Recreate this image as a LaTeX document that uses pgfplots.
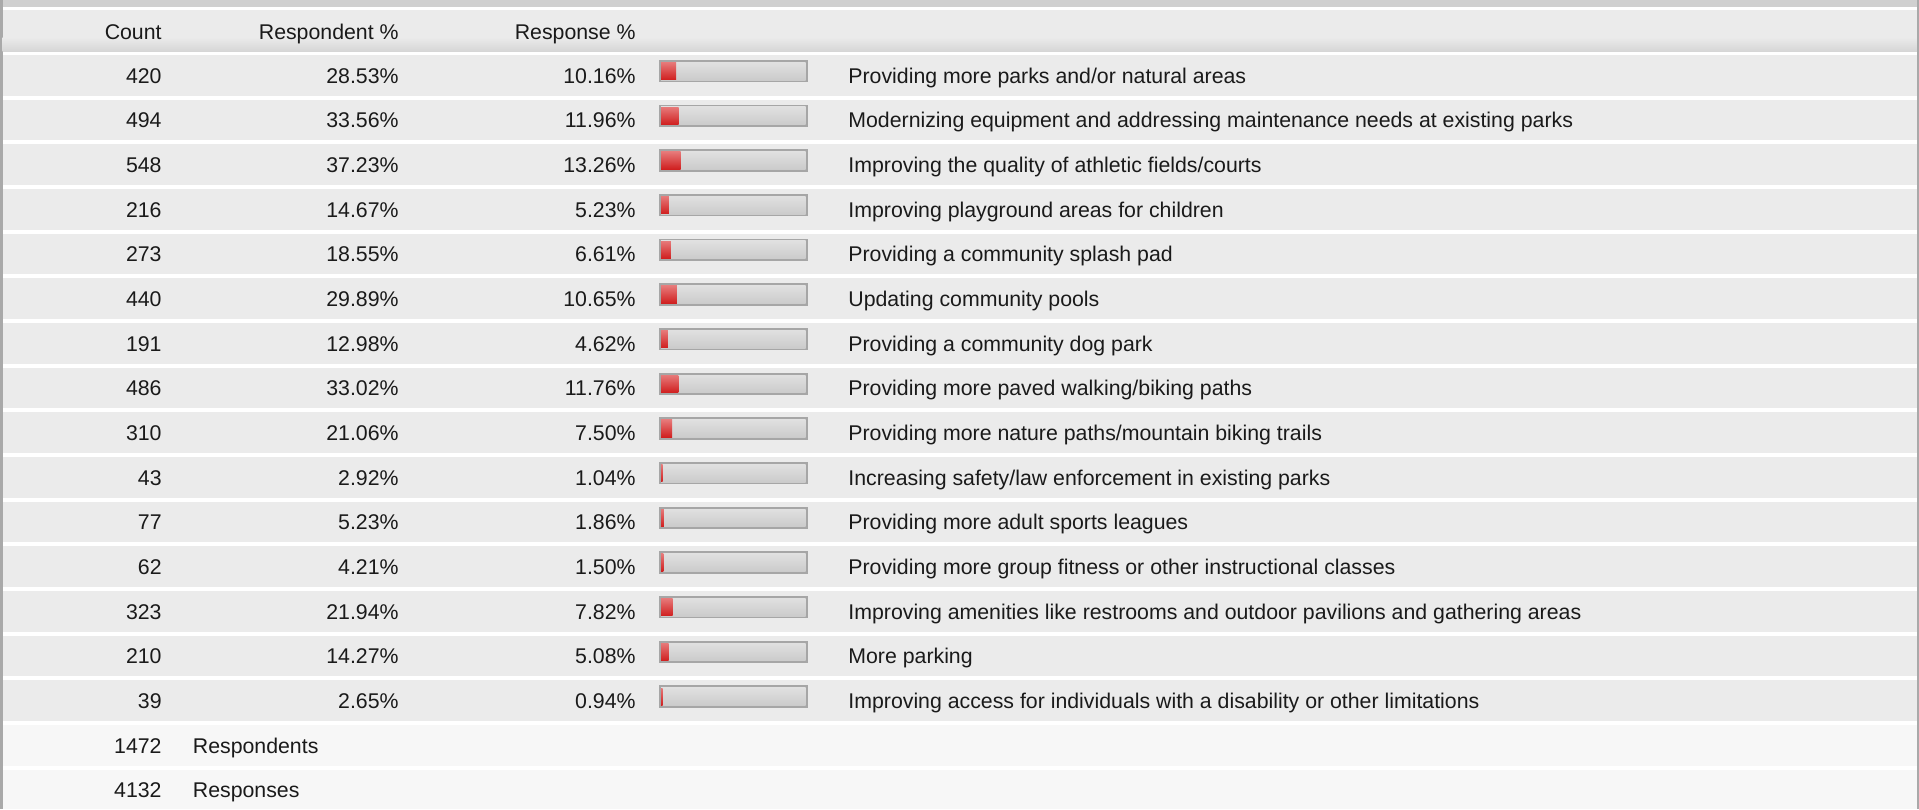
\documentclass[border=0pt]{standalone}
\usepackage{pgfplots}
\pgfplotsset{compat=1.18}
\usepackage{pgfplotstable}
\usepackage{fontspec}
\setmainfont{Liberation Sans}
\definecolor{rowbg}{HTML}{EBEBEB}
\definecolor{footbg}{HTML}{F7F7F7}
\definecolor{hdrdark}{HTML}{D6D6D6}
\definecolor{topgray}{HTML}{D0D0D0}
\definecolor{bordergray}{HTML}{A9A9A9}
\definecolor{trackborder}{HTML}{A6A6A6}
\definecolor{tracktop}{HTML}{E0E0E0}
\definecolor{trackbot}{HTML}{CBCBCB}
\definecolor{redtop}{HTML}{E67878}
\definecolor{redmid}{HTML}{D42828}
\definecolor{redbot}{HTML}{D01F1F}
\definecolor{txt}{HTML}{1A1A1A}

\pgfplotstableread{
count resp respo label
420 28.53 10.16 {Providing more parks and/or natural areas}
494 33.56 11.96 {Modernizing equipment and addressing maintenance needs at existing parks}
548 37.23 13.26 {Improving the quality of athletic fields/courts}
216 14.67 5.23 {Improving playground areas for children}
273 18.55 6.61 {Providing a community splash pad}
440 29.89 10.65 {Updating community pools}
191 12.98 4.62 {Providing a community dog park}
486 33.02 11.76 {Providing more paved walking/biking paths}
310 21.06 7.50 {Providing more nature paths/mountain biking trails}
43 2.92 1.04 {Increasing safety/law enforcement in existing parks}
77 5.23 1.86 {Providing more adult sports leagues}
62 4.21 1.50 {Providing more group fitness or other instructional classes}
323 21.94 7.82 {Improving amenities like restrooms and outdoor pavilions and gathering areas}
210 14.27 5.08 {More parking}
39 2.65 0.94 {Improving access for individuals with a disability or other limitations}
}\datatable

\begin{document}
\begin{tikzpicture}[font=\fontsize{10.65}{12.8}\selectfont]
\begin{axis}[name=main, at={(0pt,0pt)}, anchor=north west, scale only axis,
  width=959.5pt, height=404.5pt, xmin=0, xmax=1919, ymin=0, ymax=809,
  y dir=reverse, hide axis, clip=false]
 \fill[topgray] (axis cs:0,0) rectangle (axis cs:1919,6.5);
 \fill[bordergray] (axis cs:0,0) rectangle (axis cs:2.5,809);
 \fill[bordergray] (axis cs:1916.8,0) rectangle (axis cs:1919,809);
 \fill[rowbg] (axis cs:2.5,10) rectangle (axis cs:1916.8,51);
 \shade[top color=rowbg, bottom color=hdrdark] (axis cs:2.5,37) rectangle (axis cs:1916.8,51);
 \node[anchor=base east, inner sep=0pt, text=txt] at (axis cs:162,39) {Count};
 \node[anchor=base east, inner sep=0pt, text=txt] at (axis cs:399,39) {Respondent \%};
 \node[anchor=base east, inner sep=0pt, text=txt] at (axis cs:636,39) {Response \%};
 \pgfplotsforeachungrouped \k in {0,...,14}{%
  \pgfmathsetmacro\rt{55+44.67*\k}%
  \pgfmathsetmacro\rb{\rt+40.5}%
  \pgfmathsetmacro\bl{\rt+28}%
  \pgfmathsetmacro\ta{\rt+5}%
  \pgfmathsetmacro\tb{\rt+27.3}%
  \pgfmathsetmacro\tc{\rt+7.3}%
  \pgfmathsetmacro\td{\rt+25}%
  \pgfplotstablegetelem{\k}{count}\of\datatable\let\vc\pgfplotsretval
  \pgfplotstablegetelem{\k}{resp}\of\datatable\let\vr\pgfplotsretval
  \pgfplotstablegetelem{\k}{respo}\of\datatable\let\vp\pgfplotsretval
  \pgfplotstablegetelem{\k}{label}\of\datatable\let\vl\pgfplotsretval
  \edef\temp{%
   \noexpand\fill[rowbg] (axis cs:2.5,\rt) rectangle (axis cs:1916.8,\rb);
   \noexpand\fill[trackborder] (axis cs:658.5,\ta) rectangle (axis cs:808,\tb);
   \noexpand\shade[top color=tracktop, bottom color=trackbot] (axis cs:661,\tc) rectangle (axis cs:805.5,\td);
   \noexpand\node[anchor=base east, inner sep=0pt, text=txt] at (axis cs:162,\bl) {\vc};
   \noexpand\node[anchor=base east, inner sep=0pt, text=txt] at (axis cs:399,\bl) {\vr\noexpand\%};
   \noexpand\node[anchor=base east, inner sep=0pt, text=txt] at (axis cs:636,\bl) {\vp\noexpand\%};
   \noexpand\node[anchor=base west, inner sep=0pt, text=txt] at (axis cs:848,\bl) {\vl};
  }\temp
 }
 \fill[footbg] (axis cs:2.5,725) rectangle (axis cs:1916.8,765.5);
 \fill[footbg] (axis cs:2.5,769.5) rectangle (axis cs:1916.8,809);
 \node[anchor=base east, inner sep=0pt, text=txt] at (axis cs:162,753) {1472};
 \node[anchor=base west, inner sep=0pt, text=txt] at (axis cs:192.5,753) {Respondents};
 \node[anchor=base east, inner sep=0pt, text=txt] at (axis cs:162,797.5) {4132};
 \node[anchor=base west, inner sep=0pt, text=txt] at (axis cs:192.5,797.5) {Responses};
\end{axis}
\begin{axis}[at={(329.5pt,0pt)}, anchor=north west, scale only axis,
  width=74.5pt, height=404.5pt, xmin=-1.5, xmax=100.5, ymin=0, ymax=809,
  y dir=reverse, hide axis, clip=false]
 \pgfplotsinvokeforeach{0,...,14}{%
 \addplot[xbar, bar shift=0pt, bar width=8.6pt, draw=none, top color=redtop, middle color=redmid, bottom color=redbot]
   table[x=respo, y expr=71.2+44.67*\coordindex, restrict expr to domain={\coordindex}{#1:#1}]{\datatable};
 }
\end{axis}
\end{tikzpicture}
\end{document}
